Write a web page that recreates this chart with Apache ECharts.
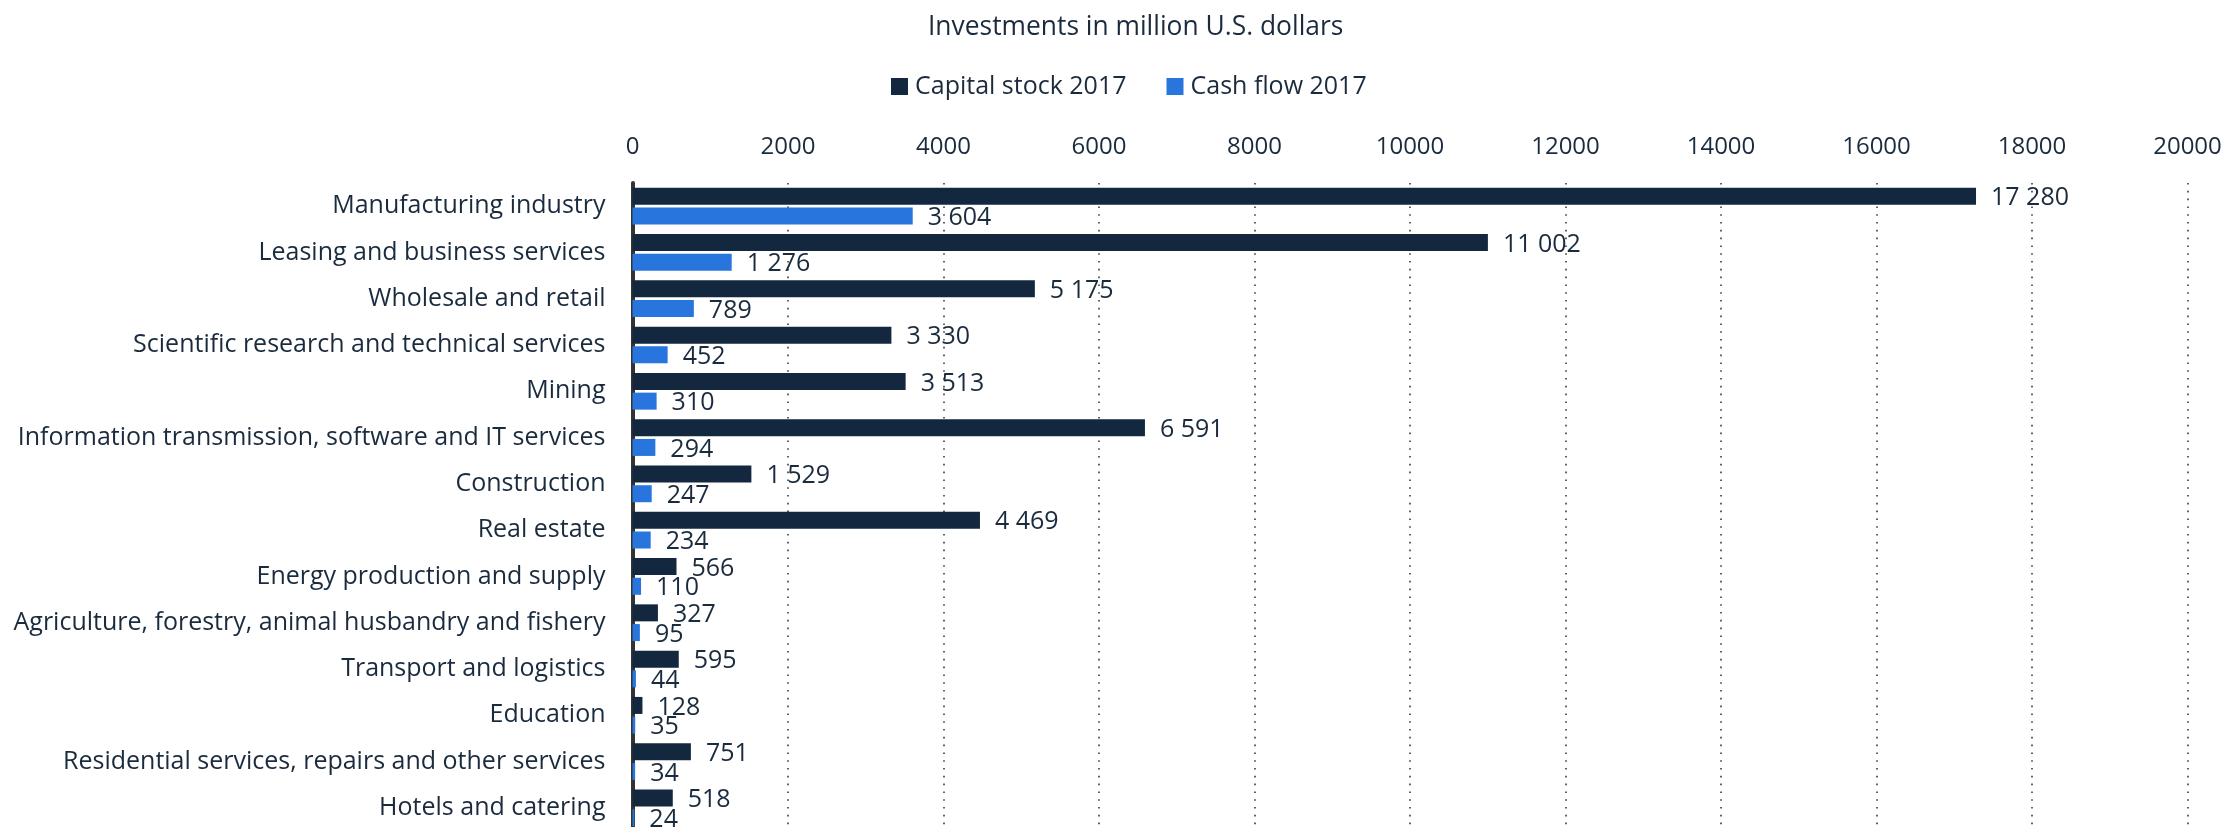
<!DOCTYPE html>
<html>
<head>
<meta charset="utf-8">
<script src="https://cdn.jsdelivr.net/npm/echarts@6/dist/echarts.min.js"></script>
<style>
  html, body { margin: 0; padding: 0; background: #ffffff; }
  #chart { width: 2228px; height: 827px; }
</style>
</head>
<body>
<div id="chart"></div>
<script>
const categories = [
  "Manufacturing industry",
  "Leasing and business services",
  "Wholesale and retail",
  "Scientific research and technical services",
  "Mining",
  "Information transmission, software and IT services",
  "Construction",
  "Real estate",
  "Energy production and supply",
  "Agriculture, forestry, animal husbandry and fishery",
  "Transport and logistics",
  "Education",
  "Residential services, repairs and other services",
  "Hotels and catering"
];
const capitalStock2017 = [17280, 11002, 5175, 3330, 3513, 6591, 1529, 4469, 566, 327, 595, 128, 751, 518];
const cashFlow2017 = [3604, 1276, 789, 452, 310, 294, 247, 234, 110, 95, 44, 35, 34, 24];
const seriesNames = ["Capital stock 2017", "Cash flow 2017"];
const axisTitle = "Investments in million U.S. dollars";

const textColor = "#1b2b3e";
const font = "'Open Sans', 'DejaVu Sans', sans-serif";

function fmtSpace(v) {
  return String(v).replace(/\B(?=(\d{3})+(?!\d))/g, " ");
}

const chart = echarts.init(document.getElementById('chart'), null, { renderer: 'canvas' });

const labelCfg = {
  show: true,
  position: 'right',
  distance: 15,
  offset: [0, 2],
  fontSize: 25,
  fontFamily: font,
  color: textColor,
  formatter: p => fmtSpace(p.value)
};

chart.setOption({
  backgroundColor: '#ffffff',
  animation: false,
  textStyle: { fontFamily: font, color: textColor },
  title: {
    text: axisTitle,
    left: 928,
    top: 14,
    padding: 0,
    textStyle: { fontSize: 26.4, fontWeight: 'normal', color: textColor, fontFamily: font }
  },
  legend: {
    data: seriesNames,
    left: 891,
    top: 74,
    padding: 0,
    icon: 'rect',
    itemWidth: 17,
    itemHeight: 17,
    itemGap: 40,
    textStyle: { fontSize: 25, color: textColor, fontFamily: font, padding: [0, 0, 0, 2] }
  },
  grid: {
    left: 632.5,
    right: 40.5,
    top: 183,
    height: 648,
    containLabel: false,
    outerBoundsMode: 'none'
  },
  xAxis: {
    type: 'value',
    position: 'top',
    min: 0,
    max: 20000,
    interval: 2000,
    axisLine: { show: false },
    axisTick: { show: false },
    axisLabel: {
      fontSize: 24,
      color: textColor,
      fontFamily: font,
      margin: 24,
      formatter: v => String(v)
    },
    splitLine: {
      show: true,
      lineStyle: { color: '#3a3a3a', width: 1.6, type: [1.6, 6.2] }
    }
  },
  yAxis: {
    type: 'category',
    data: categories,
    inverse: true,
    axisLine: { show: true, lineStyle: { color: '#333333', width: 4 } },
    axisTick: { show: false },
    axisLabel: {
      fontSize: 25,
      color: textColor,
      fontFamily: font,
      margin: 27,
      padding: [5, 0, 0, 0]
    },
    splitLine: { show: false }
  },
  series: [
    {
      name: seriesNames[0],
      type: 'bar',
      data: capitalStock2017,
      barWidth: 17,
      barGap: '16%',
      itemStyle: { color: '#13283f' },
      label: labelCfg,
      z: 1
    },
    {
      name: seriesNames[1],
      type: 'bar',
      data: cashFlow2017,
      barWidth: 17,
      barGap: '16%',
      itemStyle: { color: '#2876dd' },
      label: labelCfg,
      z: 1
    }
  ]
});
</script>
</body>
</html>
